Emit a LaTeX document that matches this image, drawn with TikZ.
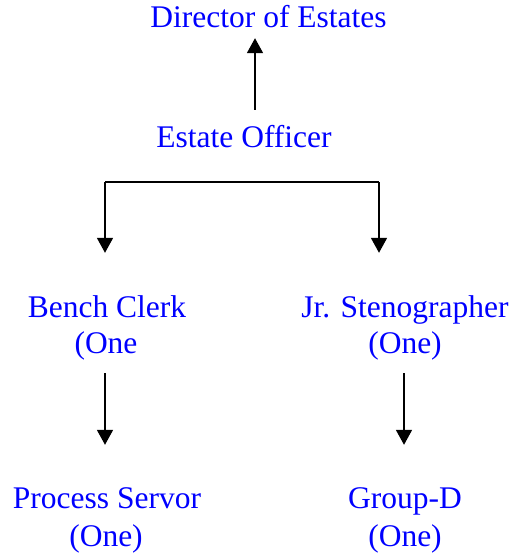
\documentclass[tikz,border=0pt]{standalone}
\usepackage{fontspec}
\setmainfont{Liberation Serif}
\usetikzlibrary{arrows.meta}
\definecolor{lblue}{RGB}{0,0,255}
\begin{document}
\begin{tikzpicture}[x=1pt,y=-1pt,
  lbl/.style={text=lblue, font=\fontsize{31.5}{37}\selectfont, inner sep=0pt,
    text height=22pt, text depth=7pt, anchor=base},
  conn/.style={draw=black, line width=1.8pt},
  arr/.style={conn, -{Triangle[width=16pt,length=15pt]}}]
\useasboundingbox (0,0) rectangle (514,556);
\node[lbl] (dir) at (268.5,28) {Director of Estates};
\node[lbl] (eo) at (244,148) {Estate Officer};
\node[lbl] (bc) at (107,317) {Bench Clerk};
\node[lbl] (bc1) at (106,353) {(One};
\node[lbl] (js) at (405,317) {Jr. Stenographer};
\node[lbl] (js1) at (405,353) {(One)};
\node[lbl] (ps) at (107,508) {Process Servor};
\node[lbl] (ps1) at (106,546) {(One)};
\node[lbl] (gd) at (405,508) {Group-D};
\node[lbl] (gd1) at (405,546) {(One)};
\coordinate (xa) at (255,0);
\coordinate (xl) at (105,182);
\coordinate (xr) at (379,182);
\coordinate (xr2) at (404,0);
\draw[arr, shorten <=16pt, shorten >=3pt] (eo.north -| xa) -- (dir.south -| xa);
\draw[conn] (xl) -- (xr);
\draw[arr, shorten >=42pt] (xl) -- (xl |- bc.north);
\draw[arr, shorten >=42pt] (xr) -- (xr |- js.north);
\draw[arr, shorten <=13pt, shorten >=41pt] (xl |- bc1.south) -- (xl |- ps.north);
\draw[arr, shorten <=13pt, shorten >=41pt] (xr2 |- js1.south) -- (xr2 |- gd.north);
\end{tikzpicture}
\end{document}
